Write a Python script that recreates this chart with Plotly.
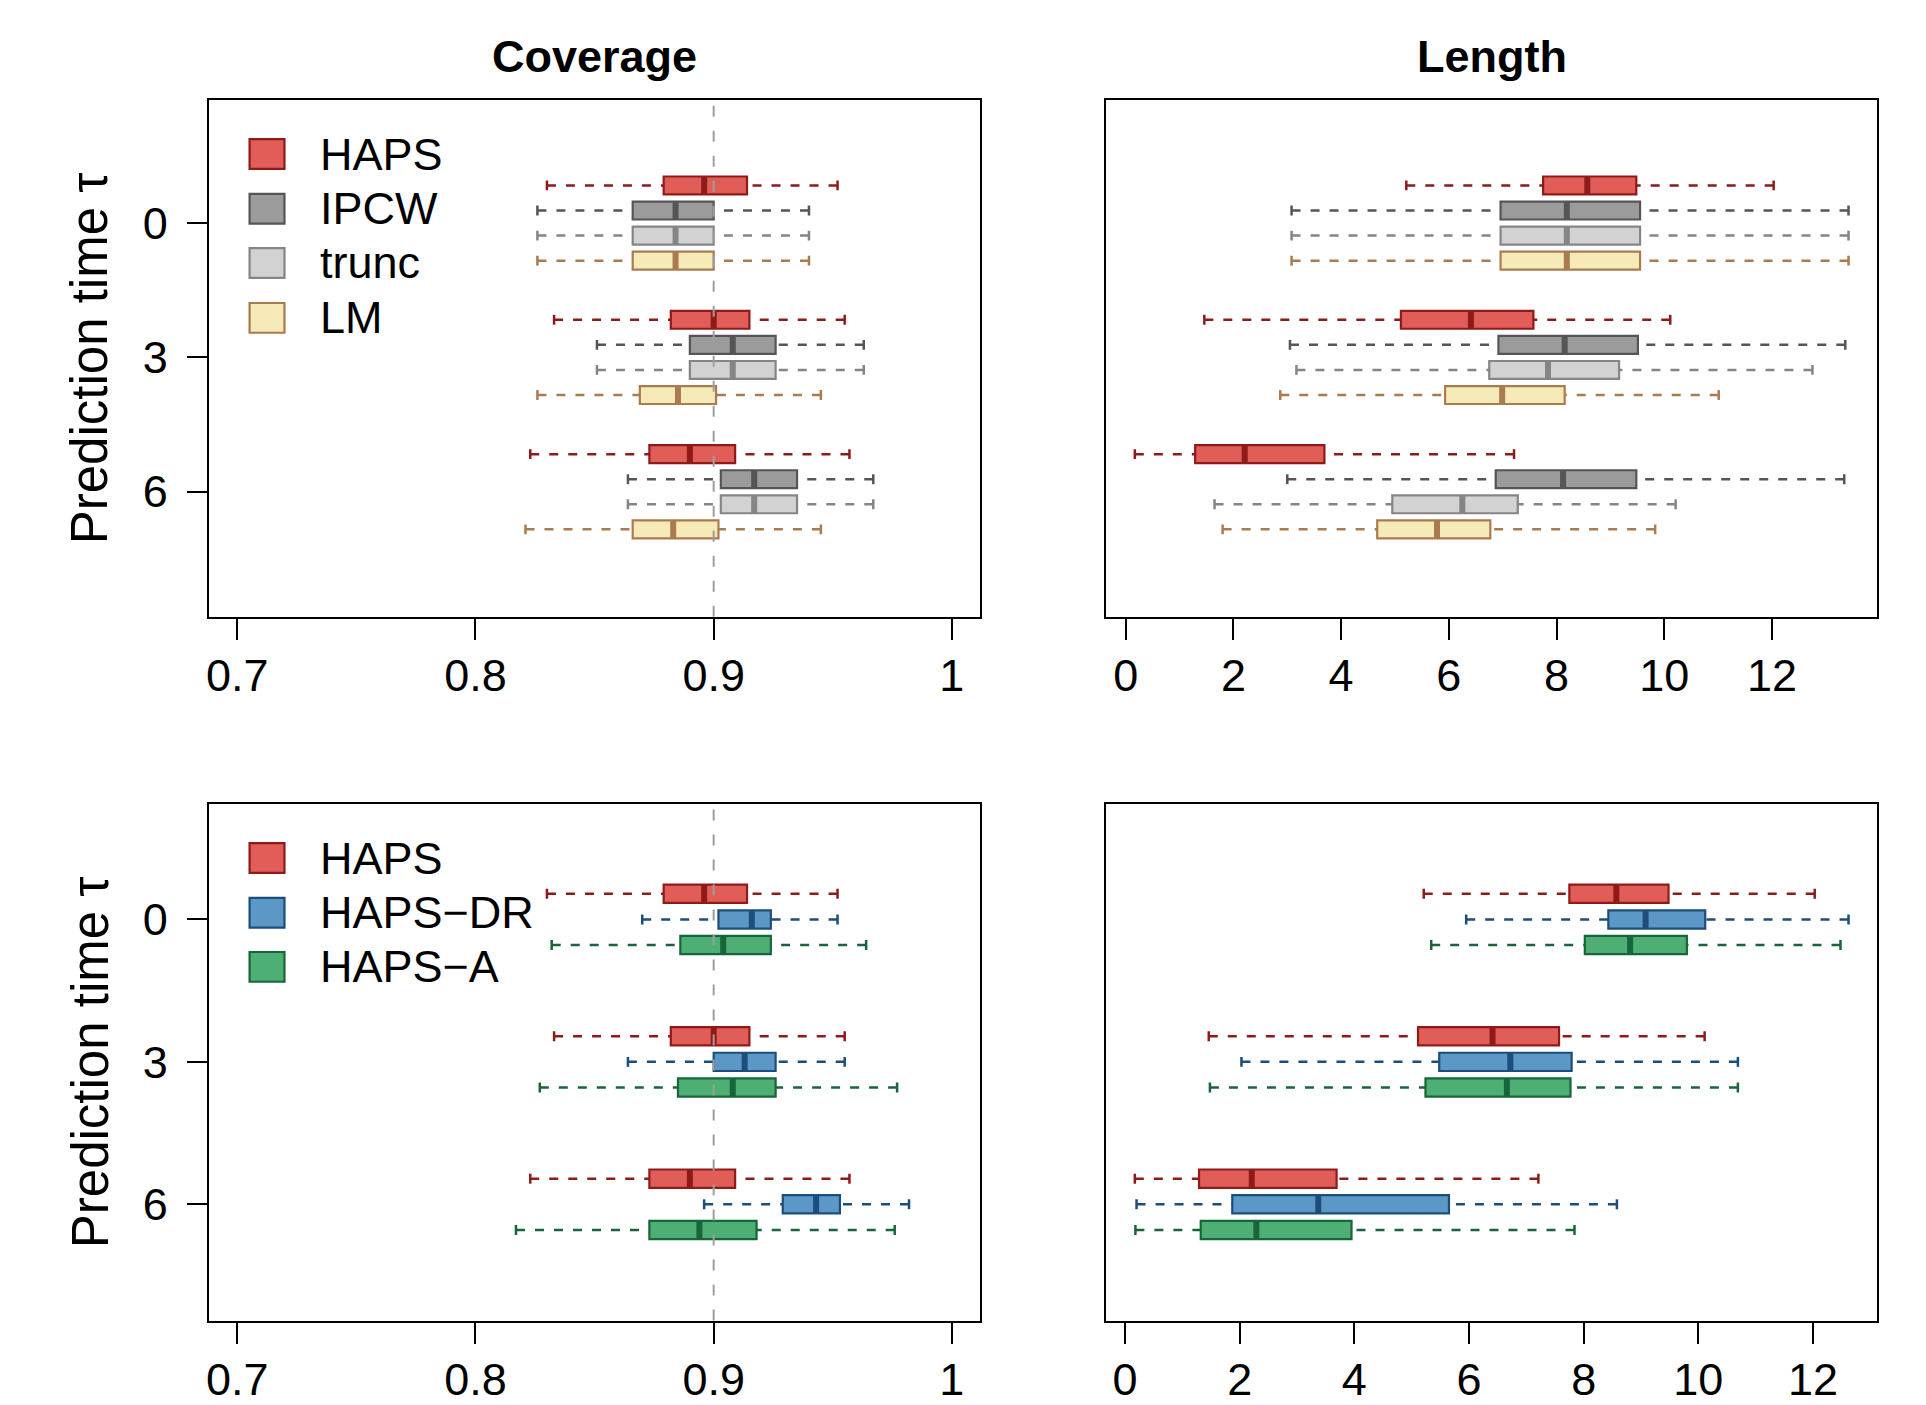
import plotly.graph_objects as go

# ---------------- data (five-number summaries: lower whisker, Q1, median, Q3, upper whisker) ----------------
TAUS = [0, 3, 6]
TAU_LABELS = ["0", "3", "6"]

COV_TICKS = [0.7, 0.8, 0.9, 1.0]
COV_TICK_LABELS = ["0.7", "0.8", "0.9", "1"]
LEN_TICKS = [0, 2, 4, 6, 8, 10, 12]
LEN_TICK_LABELS = ["0", "2", "4", "6", "8", "10", "12"]
TARGET_COVERAGE = 0.9

COV_HAPS = [[0.830, 0.879, 0.896, 0.914, 0.952],
            [0.833, 0.882, 0.900, 0.915, 0.955],
            [0.823, 0.873, 0.890, 0.909, 0.957]]
COV_IPCW = [[0.826, 0.866, 0.884, 0.900, 0.940],
            [0.851, 0.890, 0.908, 0.926, 0.963],
            [0.864, 0.903, 0.917, 0.935, 0.967]]
COV_TRUNC = [[0.826, 0.866, 0.884, 0.900, 0.940],
             [0.851, 0.890, 0.908, 0.926, 0.963],
             [0.864, 0.903, 0.917, 0.935, 0.967]]
COV_LM = [[0.826, 0.866, 0.884, 0.900, 0.940],
          [0.826, 0.869, 0.885, 0.901, 0.945],
          [0.821, 0.866, 0.883, 0.902, 0.945]]
COV_DR = [[0.870, 0.902, 0.916, 0.924, 0.952],
          [0.864, 0.900, 0.913, 0.926, 0.955],
          [0.896, 0.929, 0.943, 0.953, 0.982]]
COV_A = [[0.832, 0.886, 0.904, 0.924, 0.964],
         [0.827, 0.885, 0.908, 0.926, 0.977],
         [0.817, 0.873, 0.894, 0.918, 0.976]]

LEN_HAPS = [[5.21, 7.75, 8.57, 9.48, 12.03],
            [1.46, 5.11, 6.41, 7.57, 10.11],
            [0.17, 1.29, 2.21, 3.69, 7.21]]
LEN_IPCW = [[3.08, 6.96, 8.19, 9.55, 13.42],
            [3.05, 6.92, 8.15, 9.51, 13.36],
            [3.00, 6.87, 8.12, 9.48, 13.34]]
LEN_TRUNC = [[3.08, 6.96, 8.19, 9.55, 13.42],
             [3.17, 6.75, 7.84, 9.16, 12.75],
             [1.65, 4.95, 6.25, 7.28, 10.21]]
LEN_LM = [[3.08, 6.96, 8.19, 9.55, 13.42],
          [2.87, 5.93, 6.99, 8.15, 11.01],
          [1.80, 4.67, 5.78, 6.77, 9.83]]
LEN_DR = [[5.95, 8.43, 9.08, 10.12, 12.62],
          [2.03, 5.48, 6.72, 7.79, 10.69],
          [0.20, 1.87, 3.37, 5.65, 8.58]]
LEN_A = [[5.34, 8.02, 8.81, 9.80, 12.48],
         [1.48, 5.24, 6.66, 7.77, 10.69],
         [0.18, 1.32, 2.29, 3.95, 7.84]]

TOP_METHODS = ["HAPS", "IPCW", "trunc", "LM"]
BOTTOM_METHODS = ["HAPS", "HAPS\u2212DR", "HAPS\u2212A"]

# ---------------- styles ----------------
FILL = {"HAPS": "#E15E58", "IPCW": "#9B9B9B", "trunc": "#D2D2D2", "LM": "#F6EAB9",
        "HAPS\u2212DR": "#5B98C7", "HAPS\u2212A": "#4DAF73"}
EDGE = {"HAPS": "#8F1A1A", "IPCW": "#555555", "trunc": "#858585", "LM": "#A97B4F",
        "HAPS\u2212DR": "#1C4E7B", "HAPS\u2212A": "#17653A"}

FONT = "Liberation Sans, Arial, Helvetica, sans-serif"
W, H = 1926, 1405

fig = go.Figure()


def add_boxes(name, data, offset, xa, ya, box_h, cap_h):
    pos = [t + offset for t in TAUS]
    col, edge = FILL[name], EDGE[name]
    common = dict(xaxis=xa, yaxis=ya, showlegend=False, hoverinfo="skip")
    wx, wy, cx, cy, mx, my = [], [], [], [], [], []
    for p, d in zip(pos, data):
        wx += [d[0], d[1], None, d[4], d[3], None]
        wy += [p, p, None, p, p, None]
        cx += [d[0], d[0], None, d[4], d[4], None]
        cy += [p - cap_h, p + cap_h, None, p - cap_h, p + cap_h, None]
        mx += [d[2], d[2], None]
        my += [p - box_h / 2, p + box_h / 2, None]
    fig.add_trace(go.Scatter(x=wx, y=wy, mode="lines",
                             line=dict(color=edge, width=2.5, dash="9px,10px"), **common))
    fig.add_trace(go.Scatter(x=cx, y=cy, mode="lines",
                             line=dict(color=edge, width=2.5), **common))
    fig.add_trace(go.Bar(y=pos, x=[d[3] - d[1] for d in data], base=[d[1] for d in data],
                         orientation="h", width=box_h, name=name,
                         marker=dict(color=col, line=dict(color=edge, width=2.2)), **common))
    fig.add_trace(go.Scatter(x=mx, y=my, mode="lines",
                             line=dict(color=edge, width=6), **common))


TOP_OFFSETS = [-0.84, -0.28, 0.28, 0.84]
BOT_OFFSETS = [-0.54, 0.0, 0.54]
TOP_BOX_H, TOP_CAP_H = 0.40, 0.11
BOT_BOX_H, BOT_CAP_H = 0.385, 0.105

top_cov = [COV_HAPS, COV_IPCW, COV_TRUNC, COV_LM]
top_len = [LEN_HAPS, LEN_IPCW, LEN_TRUNC, LEN_LM]
bot_cov = [COV_HAPS, COV_DR, COV_A]
bot_len = [LEN_HAPS, LEN_DR, LEN_A]

for name, dc, dl, off in zip(TOP_METHODS, top_cov, top_len, TOP_OFFSETS):
    add_boxes(name, dc, off, "x", "y", TOP_BOX_H, TOP_CAP_H)
    add_boxes(name, dl, off, "x2", "y2", TOP_BOX_H, TOP_CAP_H)
for name, dc, dl, off in zip(BOTTOM_METHODS, bot_cov, bot_len, BOT_OFFSETS):
    add_boxes(name, dc, off, "x3", "y3", BOT_BOX_H, BOT_CAP_H)
    add_boxes(name, dl, off, "x4", "y4", BOT_BOX_H, BOT_CAP_H)


def padded(lo, hi, frac=0.04):
    r = hi - lo
    return [lo - frac * r, hi + frac * r]


def data_range(groups):
    vals = [v for g in groups for row in g for v in row]
    return padded(min(vals), max(vals))


XL = [206 / W, 979 / W]
XR = [1105 / W, 1877 / W]
YT = [1 - 622 / H, 1 - 101 / H]
YB = [1 - 1332 / H, 1 - 811 / H]

tickfont = dict(family=FONT, size=45, color="black")
xcommon = dict(showgrid=False, zeroline=False, showline=True, mirror=True, linecolor="black",
               linewidth=2, ticks="outside", ticklen=21, tickwidth=2, tickcolor="black",
               tickfont=tickfont, ticklabelstandoff=-3)
ycommon = dict(showgrid=False, zeroline=False, showline=True, mirror=True, linecolor="black",
               linewidth=2, ticklen=20, tickwidth=2, tickcolor="black",
               tickfont=tickfont, tickmode="array", tickvals=TAUS, ticktext=TAU_LABELS)

fig.update_layout(
    width=W, height=H, autosize=False, margin=dict(l=0, r=0, t=0, b=0, pad=0),
    paper_bgcolor="white", plot_bgcolor="white", barmode="overlay", showlegend=False,
    font=dict(family=FONT, color="black"),
    xaxis=dict(domain=XL, anchor="y", range=padded(0.7, 1.0), tickmode="array",
               tickvals=COV_TICKS, ticktext=COV_TICK_LABELS, **xcommon),
    xaxis2=dict(domain=XR, anchor="y2", range=data_range(top_len), tickmode="array",
                tickvals=LEN_TICKS, ticktext=LEN_TICK_LABELS, **xcommon),
    xaxis3=dict(domain=XL, anchor="y3", range=padded(0.7, 1.0), tickmode="array",
                tickvals=COV_TICKS, ticktext=COV_TICK_LABELS, **xcommon),
    xaxis4=dict(domain=XR, anchor="y4", range=data_range(bot_len), tickmode="array",
                tickvals=LEN_TICKS, ticktext=LEN_TICK_LABELS, **xcommon),
    yaxis=dict(domain=YT, anchor="x", range=[8.79, -2.745], ticks="outside",
               ticklabelstandoff=10, **ycommon),
    yaxis2=dict(domain=YT, anchor="x2", range=[8.79, -2.745], showticklabels=False,
                ticks="", **ycommon),
    yaxis3=dict(domain=YB, anchor="x3", range=[8.45, -2.43], ticks="outside",
                ticklabelstandoff=10, **ycommon),
    yaxis4=dict(domain=YB, anchor="x4", range=[8.45, -2.43], showticklabels=False,
                ticks="", **ycommon),
)

# nominal coverage reference lines
for xa, ya in (("x", "y domain"), ("x3", "y3 domain")):
    fig.add_shape(type="line", xref=xa, yref=ya,
                  x0=TARGET_COVERAGE, x1=TARGET_COVERAGE, y0=0, y1=1, layer="above",
                  line=dict(color="#9E9E9E", width=2, dash="11px,14px"))

# column titles
for txt, xd in (("Coverage", XL), ("Length", XR)):
    fig.add_annotation(text=f"<b>{txt}</b>", xref="paper", yref="paper",
                       x=(xd[0] + xd[1]) / 2, y=1 - 56.5 / H, xanchor="center", yanchor="middle",
                       showarrow=False, font=dict(family=FONT, size=45, color="black"))

# y-axis titles
for yd in (YT, YB):
    fig.add_annotation(text="Prediction time \u03c4", xref="paper", yref="paper",
                       x=87 / W, y=(yd[0] + yd[1]) / 2, xanchor="center", yanchor="middle",
                       textangle=-90, showarrow=False,
                       font=dict(family=FONT, size=51, color="black"))

# legends (drawn inside the left panels)
LEG_Y = [0.8956, 0.7898, 0.6848, 0.5785]
LEG_X0, LEG_X1, LEG_HALF = 0.0530, 0.0982, 0.0288
LEG_TX = 0.1422
for methods, xr, yr in ((TOP_METHODS, "x domain", "y domain"), (BOTTOM_METHODS, "x3 domain", "y3 domain")):
    for m, yc in zip(methods, LEG_Y):
        fig.add_shape(type="rect", xref=xr, yref=yr, x0=LEG_X0, x1=LEG_X1,
                      y0=yc - LEG_HALF, y1=yc + LEG_HALF, fillcolor=FILL[m],
                      line=dict(color=EDGE[m], width=2.2), layer="above")
        fig.add_annotation(text=m, xref=xr, yref=yr, x=LEG_TX, y=yc, xanchor="left",
                           yanchor="middle", showarrow=False,
                           font=dict(family=FONT, size=45, color="black"))

fig.write_html(
    "out.html",
    config={"displayModeBar": False},
    post_script=("document.documentElement.style.margin='0';"
                 "document.documentElement.style.padding='0';"
                 "document.documentElement.style.overflow='hidden';"
                 "document.body.style.margin='0';document.body.style.padding='0';"
                 "document.body.style.overflow='hidden';"),
)
